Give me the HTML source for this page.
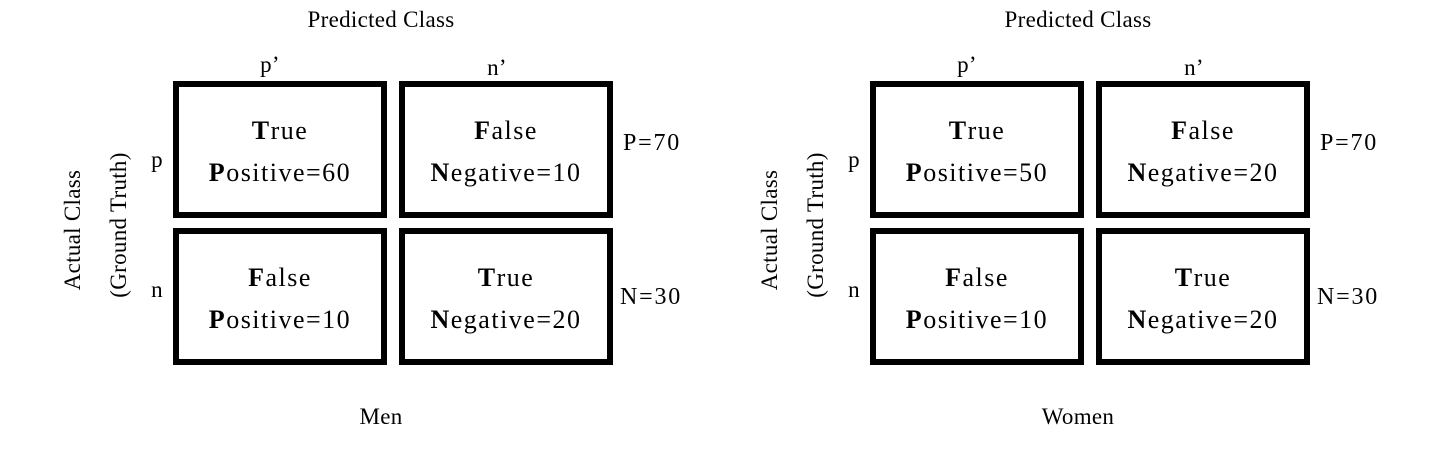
<!DOCTYPE html>
<html><head><meta charset="utf-8"><style>
body{margin:0;background:#fff}
svg text{font-family:"Liberation Serif",serif;font-size:23px;fill:#000}
svg text.cell{font-size:26px;letter-spacing:1.5px}
svg text.tot{font-size:24px;letter-spacing:1.8px}
svg text.lab{font-size:23px;letter-spacing:0.3px}
</style></head><body>
<svg width="1429" height="458" xmlns="http://www.w3.org/2000/svg">
<g id="root"></g>
</svg>
<script>
const panels=["Men","Women"];
const cellValues=[[60,10,10,20],[50,20,10,20]];
const totals=[["P=70","N=30"],["P=70","N=30"]];
const cellWords=[["True","Positive"],["False","Negative"],["False","Positive"],["True","Negative"]];
const NS="http://www.w3.org/2000/svg";
const root=document.getElementById('root');
function t(parent,x,y,str,anchor,extra,cls){const e=document.createElementNS(NS,'text');e.setAttribute('x',x);e.setAttribute('y',y);e.setAttribute('text-anchor',anchor||'middle');if(extra)e.setAttribute('transform',extra);if(cls)e.setAttribute('class',cls);e.innerHTML=str;parent.appendChild(e);return e;}
function bw(w){return '<tspan font-weight="bold">'+w[0]+'</tspan>'+w.slice(1);}
panels.forEach((name,pi)=>{
 const g=document.createElementNS(NS,'g');
 
 
 g.setAttribute('transform','translate('+(pi*697)+',0)');
 root.appendChild(g);
 let e=t(g,381,27,'Predicted Class','middle',null,'lab');
 
 e=t(g,270,72,'p’','middle',null,'lab');
 e=t(g,497,75,'n’','middle',null,'lab');
 e=t(g,157,167,'p','middle',null,'lab');
 e=t(g,157,297,'n','middle',null,'lab');
 e=t(g,80,230,'Actual Class','middle','rotate(-90 80 230)','lab');
 e=t(g,126,225,'(Ground Truth)','middle','rotate(-90 126 225)','lab');
 e=t(g,623,150,totals[pi][0],'start',null,'tot');
 e=t(g,620,304,totals[pi][1],'start',null,'tot');
 e=t(g,381,424,name,'middle',null,'lab');
 cellValues[pi].forEach((v,ci)=>{
  const c=ci%2,r=Math.floor(ci/2);
  const x=173+c*226,y=r===0?81:228;
  const rect=document.createElementNS(NS,'rect');
  rect.setAttribute('x',x+3);rect.setAttribute('y',y+3);rect.setAttribute('width',208);rect.setAttribute('height',131);
  rect.setAttribute('fill','#fff');rect.setAttribute('stroke','#000');rect.setAttribute('stroke-width',6);
  
  g.appendChild(rect);
  const w=cellWords[ci];
  let a=t(g,x+107,y+58,bw(w[0]),'middle',null,'cell');
  let b=t(g,x+107,y+100,bw(w[1])+'='+v,'middle',null,'cell');
 });
});
</script>
</body></html>
